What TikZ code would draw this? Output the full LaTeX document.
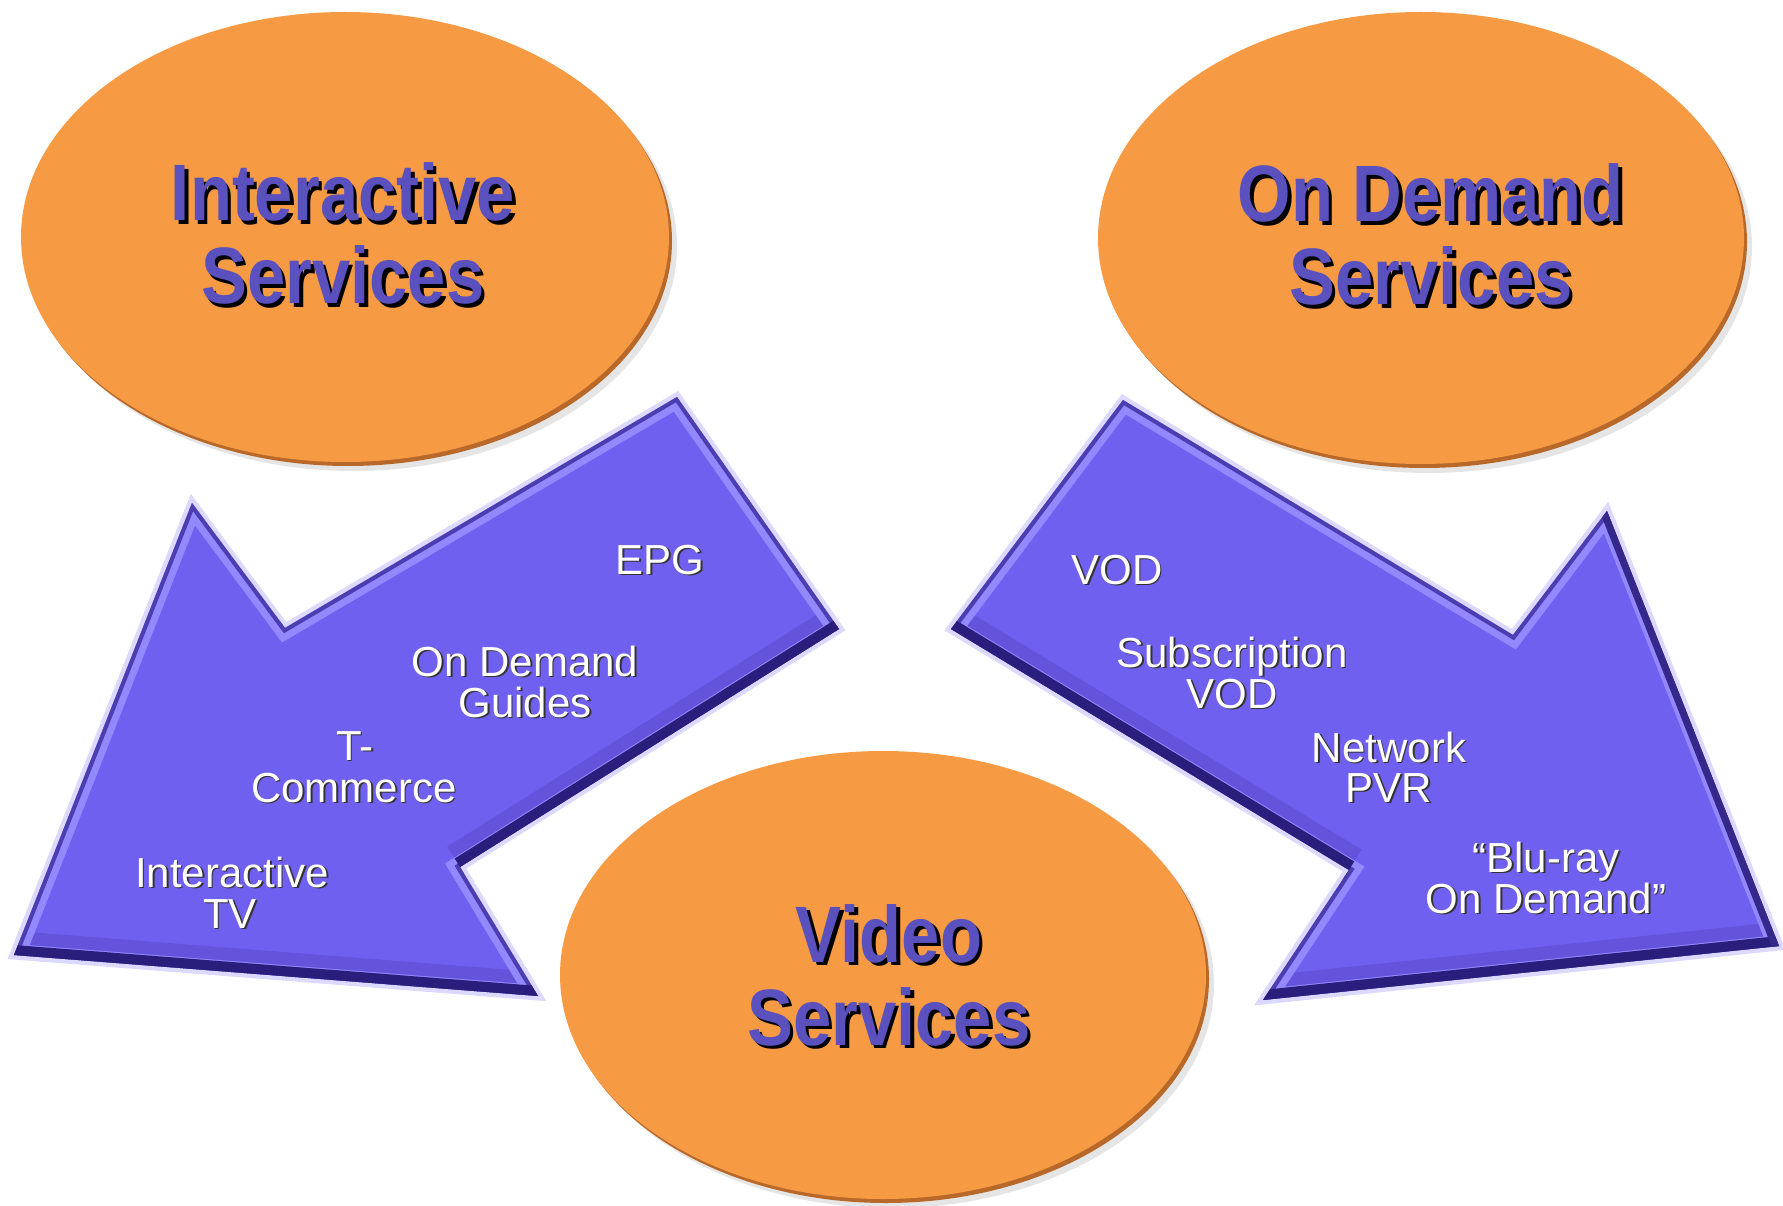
\documentclass[tikz,border=0pt]{standalone}
\usepackage{fontspec}
\setmainfont{Liberation Sans}
\newfontfamily\headfont[FakeStretch=0.86]{Liberation Sans Bold}
\definecolor{orangefill}{HTML}{F79A44}
\definecolor{rimcol}{HTML}{B8692A}
\definecolor{headblue}{HTML}{5A50BE}
\definecolor{arrowfill}{HTML}{7060F0}
\definecolor{bevellight}{HTML}{9488FF}
\definecolor{beveldark}{HTML}{2A1E7C}
\definecolor{edgecol}{HTML}{4A3EB0}
\definecolor{halocol}{HTML}{DCD8FF}
\tikzset{
  headtext/.style={font=\headfont\fontsize{80}{80}\selectfont, text=headblue, anchor=base, inner sep=0pt},
  headshadow/.style={headtext, text=black},
  itemtext/.style={font=\fontsize{42}{42}\selectfont, text=white, anchor=base, inner sep=0pt},
  itemshadow/.style={itemtext, text=black!80},
  softdark/.style={beveldark, opacity=0.18, line width=48},
}
\newcommand\headline[4]{%
  \node[headshadow] (#1s) at (#2+3.5,#3+3.5) {#4};
  \node[headtext] (#1) at (#2,#3) {#4};}
\newcommand\itemline[4]{%
  \node[itemshadow] (#1s) at (#2+1.6,#3+1.6) {#4};
  \node[itemtext] (#1) at (#2,#3) {#4};}
\newcommand\bubble[5]{%
  \fill[black, opacity=0.10] (#2+8,#3+9) ellipse [x radius=#4, y radius=#5];
  \fill[rimcol] (#2+3,#3+4) ellipse [x radius=#4, y radius=#5];
  \fill[orangefill] (#2,#3) ellipse [x radius=#4, y radius=#5];
  \coordinate (#1) at (#2,#3);}
\begin{document}
\begin{tikzpicture}[x=1pt,y=-1pt, line join=miter]
\useasboundingbox (0,0) rectangle (1783,1206);
\fill[white] (0,0) rectangle (1783,1206);

% ellipses
\bubble{ell1}{345}{237}{324}{225}
\bubble{ell2}{1421}{238}{323}{226}
\bubble{ell3}{883}{975}{323}{224}

% left arrow
\coordinate (LT) at (14,955);
\coordinate (LUB) at (192,503);
\coordinate (LNU) at (285,628);
\coordinate (LTT) at (677,397);
\coordinate (LTR) at (839,629);
\coordinate (LNL) at (460,867);
\coordinate (LLB) at (538,996);
\draw[halocol, line width=9] (LT) -- (LUB) -- (LNU) -- (LTT) -- (LTR) -- (LNL) -- (LLB) -- cycle;
\begin{scope}
  \clip (LT) -- (LUB) -- (LNU) -- (LTT) -- (LTR) -- (LNL) -- (LLB) -- cycle;
  \fill[arrowfill] (LT) -- (LUB) -- (LNU) -- (LTT) -- (LTR) -- (LNL) -- (LLB) -- cycle;
  \draw[softdark] (LTR) -- (LNL);
  \draw[softdark] (LLB) -- (LT);
  \draw[bevellight, line width=22] (LT) -- (LUB) -- (LNU) -- (LTT) -- (LTR) -- (LNL) -- (LLB) -- cycle;
  \draw[edgecol, line width=8] (LT) -- (LUB) -- (LNU) -- (LTT) -- (LTR) -- (LNL) -- (LLB) -- cycle;
  \draw[beveldark, line width=20] (LTR) -- (LNL);
  \draw[beveldark, line width=20] (LLB) -- (LT);
\end{scope}

% right arrow
\coordinate (RTT) at (1123,400);
\coordinate (RTL) at (951,629);
\coordinate (RNL) at (1349,870);
\coordinate (RLB) at (1263,1000);
\coordinate (RT) at (1779,946);
\coordinate (RUB) at (1607,511);
\coordinate (RNU) at (1513,635);
\draw[halocol, line width=9] (RTT) -- (RTL) -- (RNL) -- (RLB) -- (RT) -- (RUB) -- (RNU) -- cycle;
\begin{scope}
  \clip (RTT) -- (RTL) -- (RNL) -- (RLB) -- (RT) -- (RUB) -- (RNU) -- cycle;
  \fill[arrowfill] (RTT) -- (RTL) -- (RNL) -- (RLB) -- (RT) -- (RUB) -- (RNU) -- cycle;
  \draw[softdark] (RTL) -- (RNL);
  \draw[softdark] (RLB) -- (RT);
  \draw[bevellight, line width=22] (RTT) -- (RTL) -- (RNL) -- (RLB) -- (RT) -- (RUB) -- (RNU) -- cycle;
  \draw[edgecol, line width=8] (RTT) -- (RTL) -- (RNL) -- (RLB) -- (RT) -- (RUB) -- (RNU) -- cycle;
  \draw[beveldark, line width=20] (RTL) -- (RNL);
  \draw[beveldark, line width=20] (RLB) -- (RT);
  \draw[beveldark!70!edgecol, line width=14] (RT) -- (RUB);
\end{scope}

% headings
\headline{h1a}{343}{221}{Interactive}
\headline{h1b}{343}{304}{Services}
\headline{h2a}{1431}{222}{On Demand}
\headline{h2b}{1431}{305}{Services}
\headline{h3a}{889}{962}{Video}
\headline{h3b}{889}{1045}{Services}

% left arrow items
\itemline{epg}{660}{574}{EPG}
\itemline{odg1}{525}{676}{On Demand}
\itemline{odg2}{525}{717}{Guides}
\itemline{tc1}{355}{760}{T-}
\itemline{tc2}{354}{802}{Commerce}
\itemline{itv1}{232}{887}{Interactive}
\itemline{itv2}{230}{928}{TV}

% right arrow items
\itemline{vod}{1117}{584}{VOD}
\itemline{svod1}{1232}{667}{Subscription}
\itemline{svod2}{1232}{708}{VOD}
\itemline{npvr1}{1389}{762}{Network}
\itemline{npvr2}{1389}{802}{PVR}
\itemline{blu1}{1546}{872}{“Blu-ray}
\itemline{blu2}{1546}{913}{On Demand”}
\end{tikzpicture}
\end{document}
